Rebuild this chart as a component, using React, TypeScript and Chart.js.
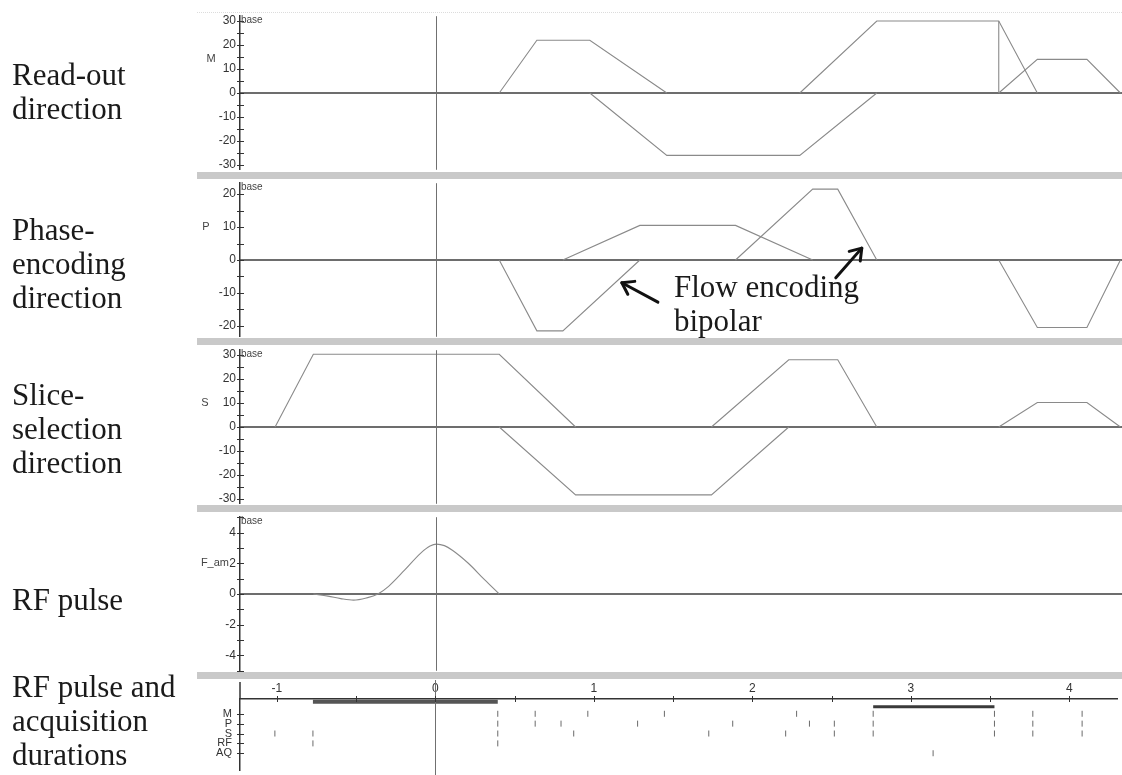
import React, { useEffect, useRef } from 'react';
import { Chart, registerables } from 'chart.js';

Chart.register(...registerables);

// ---------- time axis (ms) ----------
const X_MIN = -1.232;
const X_MAX = 4.3;

// ---------- Read-out (M) gradient lobes: [time, amplitude] ----------
const readoutLobeA = [[0.394, 0], [0.63, 22], [0.962, 22], [1.445, 0]];
const readoutLobeB = [[0.962, 0], [1.445, -26], [2.279, -26], [2.762, 0]];
const readoutLobeC = [[2.279, 0], [2.762, 30], [3.527, 30], [3.769, 0]];
const readoutDrop = [[3.527, 30], [3.527, 0]];
const readoutLobeD = [[3.527, 0], [3.769, 14], [4.08, 14], [4.29, 0]];

// ---------- Phase-encoding (P) gradient lobes ----------
const phaseLobeA = [[0.394, 0], [0.63, -21.5], [0.793, -21.5], [1.276, 0]];
const phaseLobeB = [[0.793, 0], [1.276, 10.5], [1.876, 10.5], [2.36, 0]];
const phaseLobeC = [[1.876, 0], [2.36, 21.5], [2.517, 21.5], [2.762, 0]];
const phaseLobeD = [[3.527, 0], [3.769, -20.5], [4.08, -20.5], [4.29, 0]];

// ---------- Slice-selection (S) gradient lobes ----------
const sliceLobeA = [[-1.012, 0], [-0.772, 30.3], [0.394, 30.3], [0.873, 0]];
const sliceLobeB = [[0.394, 0], [0.873, -28.3], [1.725, -28.3], [2.21, 0]];
const sliceLobeC = [[1.725, 0], [2.21, 28], [2.517, 28], [2.762, 0]];
const sliceLobeD = [[3.527, 0], [3.769, 10.2], [4.08, 10.2], [4.29, 0]];

// ---------- RF pulse amplitude ----------
const rfPulse = [
  [-0.772, 0], [-0.68, -0.14], [-0.6, -0.3], [-0.52, -0.4], [-0.44, -0.26], [-0.367, 0],
  [-0.3, 0.5], [-0.2, 1.55], [-0.1, 2.65], [-0.04, 3.12], [0, 3.25], [0.05, 3.15],
  [0.1, 2.85], [0.2, 2.0], [0.3, 0.95], [0.394, 0],
];

// ---------- timeline (durations) ----------
const timelineRows = ['M', 'P', 'S', 'RF', 'AQ'];
const timelineRowPos = [1.5, 2.5, 3.5, 4.5, 5.5];
const eventsM = [0.394, 0.63, 0.962, 1.445, 2.279, 2.762, 3.527, 3.769, 4.08];
const eventsP = [0.394, 0.63, 0.793, 1.276, 1.876, 2.36, 2.517, 2.762, 3.527, 3.769, 4.08];
const eventsS = [-1.012, -0.772, 0.394, 0.873, 1.725, 2.21, 2.517, 2.762, 3.527, 3.769, 4.08];
const eventsRF = [-0.772, 0.394];
const eventsAQ = [3.14];
const rfDuration = [-0.772, 0.394];
const aqDuration = [2.762, 3.527];

// ---------- annotation arrows (P panel, data units) ----------
const flowArrowTail = [[1.389, -12.8], [2.505, -5.4]];
const flowArrowHead = [[1.163, -6.9], [2.668, 3.6]];

const SERIF = '"Liberation Serif", "Times New Roman", Times, serif';
const SANS = '"Liberation Sans", Arial, Helvetica, sans-serif';
const AXIS_LEFT = 240;
const WAVE = '#8a8a8a';
const AXIS = '#333333';

const toXY = (pts: number[][]) => pts.map(([x, y]) => ({ x, y }));

type DecorOpts = {
  title?: string;
  titleX?: number;
  titleValue?: number;
  titleAlign?: CanvasTextAlign;
  timeline?: boolean;
  arrows?: boolean;
};

function makeDecor(o: DecorOpts) {
  return {
    id: 'decor',
    afterDraw(chart: any) {
      const { ctx, chartArea: a } = chart;
      const xs = chart.scales.x;
      const ys = chart.scales.y;
      ctx.save();
      // vertical marker at t = 0
      const x0 = Math.round(xs.getPixelForValue(0)) + 0.5;
      ctx.strokeStyle = '#707070';
      ctx.lineWidth = 1;
      ctx.beginPath();
      ctx.moveTo(x0, o.timeline ? 0 : a.top);
      ctx.lineTo(x0, o.timeline ? chart.height : a.bottom);
      ctx.stroke();
      // crossing tick marks on y axis
      ctx.strokeStyle = AXIS;
      ctx.lineWidth = 1;
      for (const t of ys.ticks) {
        const y = Math.round(ys.getPixelForValue(t.value)) + 0.5;
        ctx.beginPath();
        ctx.moveTo(a.left - 3, y);
        ctx.lineTo(a.left + 4, y);
        ctx.stroke();
      }
      if (o.timeline) {
        for (const t of xs.ticks) {
          const x = Math.round(xs.getPixelForValue(t.value)) + 0.5;
          ctx.beginPath();
          ctx.moveTo(x, a.top - 3);
          ctx.lineTo(x, a.top + 3);
          ctx.stroke();
        }
        ctx.lineWidth = 1.5;
        ctx.beginPath();
        ctx.moveTo(a.left, 2);
        ctx.lineTo(a.left, a.top);
        ctx.stroke();
      } else {
        ctx.fillStyle = '#444';
        ctx.font = `10px ${SANS}`;
        ctx.textBaseline = 'top';
        ctx.textAlign = 'left';
        ctx.fillText('base', a.left + 1, a.top - 1);
      }
      if (o.title) {
        ctx.fillStyle = '#444';
        ctx.font = `11px ${SANS}`;
        ctx.textBaseline = 'middle';
        ctx.textAlign = o.titleAlign || 'center';
        ctx.fillText(o.title, o.titleX || 208, ys.getPixelForValue(o.titleValue || 0));
      }
      if (o.arrows) {
        ctx.strokeStyle = '#111';
        ctx.lineWidth = 3;
        ctx.lineCap = 'round';
        ctx.lineJoin = 'round';
        flowArrowTail.forEach((tail, i) => {
          const head = flowArrowHead[i];
          const x1 = xs.getPixelForValue(tail[0]);
          const y1 = ys.getPixelForValue(tail[1]);
          const x2 = xs.getPixelForValue(head[0]);
          const y2 = ys.getPixelForValue(head[1]);
          const ang = Math.atan2(y2 - y1, x2 - x1);
          const L = 13;
          const sp = 0.6;
          ctx.beginPath();
          ctx.moveTo(x1, y1);
          ctx.lineTo(x2, y2);
          ctx.stroke();
          ctx.beginPath();
          ctx.moveTo(x2 - L * Math.cos(ang - sp), y2 - L * Math.sin(ang - sp));
          ctx.lineTo(x2, y2);
          ctx.lineTo(x2 - L * Math.cos(ang + sp), y2 - L * Math.sin(ang + sp));
          ctx.stroke();
        });
      }
      ctx.restore();
    },
  };
}

const near = (v: number, step: number) => Math.abs(v / step - Math.round(v / step)) < 1e-6;

function wavePanel(
  canvas: HTMLCanvasElement,
  lobes: number[][][],
  yMax: number,
  step: number,
  labelEvery: number,
  decor: DecorOpts,
  smooth = false
) {
  const datasets: any[] = lobes.map((l) => ({
    data: toXY(l),
    borderColor: WAVE,
    borderWidth: 1.1,
    pointRadius: 0,
    fill: false,
    tension: 0,
    cubicInterpolationMode: smooth ? 'monotone' : 'default',
  }));
  datasets.push({
    data: toXY([[X_MIN, 0], [X_MAX, 0]]),
    borderColor: '#3c3c3c',
    borderWidth: 1.6,
    pointRadius: 0,
    fill: false,
  });
  return new Chart(canvas, {
    type: 'line',
    data: { datasets },
    options: {
      animation: false,
      responsive: false,
      events: [],
      layout: { padding: { top: 10, bottom: 10, left: 0, right: 0 } },
      plugins: { legend: { display: false }, tooltip: { enabled: false } },
      scales: {
        x: { type: 'linear', display: false, min: X_MIN, max: X_MAX },
        y: {
          type: 'linear',
          min: -yMax,
          max: yMax,
          afterFit: (s: any) => {
            s.width = AXIS_LEFT;
          },
          border: { display: true, color: AXIS, width: 1.5 },
          grid: { display: false, drawTicks: false },
          ticks: {
            stepSize: step,
            includeBounds: false,
            autoSkip: false,
            padding: 4,
            color: '#333',
            font: { family: SANS, size: 12 },
            callback: (v: any) => (near(Number(v), labelEvery) ? String(v) : ''),
          },
        },
      },
    } as any,
    plugins: [makeDecor(decor)],
  });
}

function timelinePanel(canvas: HTMLCanvasElement) {
  const rowSets = [eventsM, eventsP, eventsS, eventsRF, eventsAQ];
  const datasets: any[] = rowSets.map((evs, i) => ({
    data: evs.map((t) => ({ x: t, y: timelineRowPos[i] })),
    showLine: false,
    pointStyle: 'line',
    rotation: 90,
    pointRadius: 3,
    borderColor: '#6a6a6a',
    borderWidth: 1,
  }));
  datasets.push({
    data: rfDuration.map((t) => ({ x: t, y: 0.29 })),
    borderColor: '#555',
    borderWidth: 4,
    pointRadius: 0,
  });
  datasets.push({
    data: aqDuration.map((t) => ({ x: t, y: 0.78 })),
    borderColor: '#3a3a3a',
    borderWidth: 3,
    pointRadius: 0,
  });
  return new Chart(canvas, {
    type: 'line',
    data: { datasets },
    options: {
      animation: false,
      responsive: false,
      events: [],
      layout: { padding: { top: 0, bottom: 10, left: 0, right: 0 } },
      plugins: { legend: { display: false }, tooltip: { enabled: false } },
      scales: {
        x: {
          type: 'linear',
          position: 'top',
          min: X_MIN,
          max: X_MAX,
          afterFit: (s: any) => {
            s.height = 19;
          },
          border: { display: true, color: AXIS, width: 1.5 },
          grid: { display: false, drawTicks: false },
          ticks: {
            stepSize: 0.5,
            includeBounds: false,
            autoSkip: false,
            maxRotation: 0,
            padding: 3,
            color: '#333',
            font: { family: SANS, size: 12 },
            callback: (v: any) => (near(Number(v), 1) ? String(Math.round(Number(v))) : ''),
          },
        },
        y: {
          type: 'linear',
          reverse: true,
          min: 0,
          max: 7.24,
          afterFit: (s: any) => {
            s.width = AXIS_LEFT;
          },
          afterBuildTicks: (s: any) => {
            s.ticks = timelineRowPos.map((v) => ({ value: v }));
          },
          border: { display: true, color: AXIS, width: 1.5 },
          grid: { display: false, drawTicks: false },
          ticks: {
            autoSkip: false,
            padding: 8,
            color: '#333',
            font: { family: SANS, size: 11 },
            callback: (_v: any, i: number) => timelineRows[i],
          },
        },
      },
    } as any,
    plugins: [makeDecor({ timeline: true })],
  });
}

const sideLabels = [
  { lines: ['Read-out', 'direction'], baseline: 85 },
  { lines: ['Phase-', 'encoding', 'direction'], baseline: 240 },
  { lines: ['Slice-', 'selection', 'direction'], baseline: 405 },
  { lines: ['RF pulse'], baseline: 610 },
  { lines: ['RF pulse and', 'acquisition', 'durations'], baseline: 697 },
];

const bandTops = [172, 338, 505, 672];

export default function App() {
  const mRef = useRef<HTMLCanvasElement>(null);
  const pRef = useRef<HTMLCanvasElement>(null);
  const sRef = useRef<HTMLCanvasElement>(null);
  const rRef = useRef<HTMLCanvasElement>(null);
  const tRef = useRef<HTMLCanvasElement>(null);

  useEffect(() => {
    const charts = [
      wavePanel(mRef.current!, [readoutLobeA, readoutLobeB, readoutLobeC, readoutDrop, readoutLobeD], 32, 5, 10, {
        title: 'M', titleX: 211, titleValue: 14,
      }),
      wavePanel(pRef.current!, [phaseLobeA, phaseLobeB, phaseLobeC, phaseLobeD], 23.3, 5, 10, {
        title: 'P', titleX: 206, titleValue: 10, arrows: true,
      }),
      wavePanel(sRef.current!, [sliceLobeA, sliceLobeB, sliceLobeC, sliceLobeD], 32, 5, 10, {
        title: 'S', titleX: 205, titleValue: 10,
      }),
      wavePanel(rRef.current!, [rfPulse], 5, 1, 2, {
        title: 'F_am', titleX: 229, titleValue: 2, titleAlign: 'right',
      }, true),
      timelinePanel(tRef.current!),
    ];
    return () => charts.forEach((c) => c.destroy());
  }, []);

  const canvasStyle = (top: number): React.CSSProperties => ({
    position: 'absolute', left: 0, top, display: 'block', zIndex: 1,
  });

  return (
    <div style={{ position: 'fixed', left: 0, top: 0, width: 1122, height: 775, overflow: 'hidden', background: '#fff' }}>
      <canvas ref={mRef} width={1122} height={176} style={canvasStyle(5)} />
      <canvas ref={pRef} width={1122} height={176} style={canvasStyle(172)} />
      <canvas ref={sRef} width={1122} height={176} style={canvasStyle(339)} />
      <canvas ref={rRef} width={1122} height={176} style={canvasStyle(506)} />
      <canvas ref={tRef} width={1122} height={105} style={canvasStyle(680)} />
      <div style={{ position: 'absolute', left: 197, top: 12, width: 925, borderTop: '1px dotted #dcdcdc', zIndex: 2 }} />
      {bandTops.map((t) => (
        <div key={t} style={{ position: 'absolute', left: 197, top: t, width: 925, height: 7, background: '#c9c9c9', zIndex: 3 }} />
      ))}
      {sideLabels.map((l) => (
        <div key={l.baseline} style={{
          position: 'absolute', left: 12, top: l.baseline - 27.5, fontFamily: SERIF, fontSize: 31,
          lineHeight: '34px', color: '#1a1a1a', whiteSpace: 'pre', zIndex: 4,
        }}>{l.lines.join('\n')}</div>
      ))}
      <div style={{
        position: 'absolute', left: 674, top: 297 - 27.5, fontFamily: SERIF, fontSize: 31,
        lineHeight: '34px', color: '#1a1a1a', whiteSpace: 'pre', zIndex: 2,
      }}>{'Flow encoding\nbipolar'}</div>
    </div>
  );
}
